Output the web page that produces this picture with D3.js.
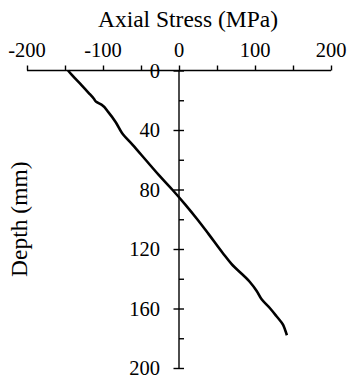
<!DOCTYPE html>
<html>
<head>
<meta charset="utf-8">
<script src="https://cdn.jsdelivr.net/npm/d3@7"></script>
<style>
  html, body { margin: 0; padding: 0; background: #fff; }
  svg { display: block; }
</style>
</head>
<body>
<svg id="chart" width="349" height="381"></svg>
<script>
// Axial stress profile along depth
const depthMm = [0, 3, 10, 15, 19, 21, 23, 28, 35, 42, 50, 60, 70, 80, 90, 100, 110, 123, 130, 142, 148, 154, 160, 165, 171, 175, 178];
const stressMPa = [-146, -141, -128, -119, -112, -109, -102, -93, -83, -75, -61, -44, -27, -9, 8, 24, 39, 58, 69, 93, 102, 109, 120, 128, 137, 140, 142];

const xMajorTicks = [-200, -100, 0, 100, 200];
const xMinorTicks = [-150, -50, 50, 150];
const yMajorTicks = [0, 40, 80, 120, 160, 200];
const yMinorTicks = [20, 60, 100, 140, 180];

const xTitle = "Axial Stress (MPa)";
const yTitle = "Depth (mm)";

const serif = "'Liberation Serif', 'Times New Roman', Times, 'DejaVu Serif', serif";

const svg = d3.select("#chart");

const x = d3.scaleLinear().domain([-200, 200]).range([27, 331]);
const y = d3.scaleLinear().domain([0, 200]).range([70.5, 368]);

const axisColor = "#000";
const axisWidth = 1.4;

// X axis along the top at depth 0, ticks pointing up
const xAxisG = svg.append("g").attr("transform", `translate(0,${y(0)})`);
xAxisG.call(d3.axisTop(x).tickValues(xMajorTicks.concat(xMinorTicks)).tickSize(5).tickFormat(""));
xAxisG.select(".domain").attr("d", `M${x(-200)},0H${x(200)}`);

// Y axis at zero stress: major ticks cross, minor ticks on the right
const yAxisG = svg.append("g").attr("transform", `translate(${x(0)},0)`);
yAxisG.call(d3.axisRight(y).tickValues(yMinorTicks).tickSize(5).tickFormat(""));
yAxisG.select(".domain").attr("d", `M0,${y(0)}V${y(200)}`);
const yMajorG = svg.append("g").attr("transform", `translate(${x(0)},0)`);
yMajorG.call(d3.axisLeft(y).tickValues(yMajorTicks).tickSize(0).tickFormat(""));
yMajorG.select(".domain").remove();
yMajorG.selectAll(".tick line").attr("x1", -5.5).attr("x2", 5);
svg.selectAll("g path, g line").attr("stroke", axisColor).attr("stroke-width", axisWidth);

// X tick labels
svg.append("g").selectAll("text").data(xMajorTicks).join("text")
  .attr("x", d => x(d))
  .attr("y", 57)
  .attr("text-anchor", "middle")
  .attr("font-family", serif)
  .attr("font-size", 20.5)
  .text(d => d);

// Y tick labels
svg.append("g").selectAll("text").data(yMajorTicks).join("text")
  .attr("x", x(0) - 19)
  .attr("y", d => y(d))
  .attr("dy", "0.35em")
  .attr("text-anchor", "end")
  .attr("font-family", serif)
  .attr("font-size", 20.5)
  .text(d => d);

// Stress profile
const line = d3.line()
  .x((d, i) => x(stressMPa[i]))
  .y(d => y(d))
  .curve(d3.curveMonotoneY);

svg.append("path")
  .datum(depthMm)
  .attr("d", line)
  .attr("fill", "none")
  .attr("stroke", "#000")
  .attr("stroke-width", 2.6)
  .attr("stroke-linejoin", "round");

// Axis titles
svg.append("text")
  .attr("x", 188)
  .attr("y", 27)
  .attr("text-anchor", "middle")
  .attr("font-family", serif)
  .attr("font-size", 23.5)
  .text(xTitle);

svg.append("text")
  .attr("transform", `translate(27,${(y(0) + y(200)) / 2}) rotate(-90)`)
  .attr("text-anchor", "middle")
  .attr("font-family", serif)
  .attr("font-size", 23.5)
  .text(yTitle);
</script>
</body>
</html>
